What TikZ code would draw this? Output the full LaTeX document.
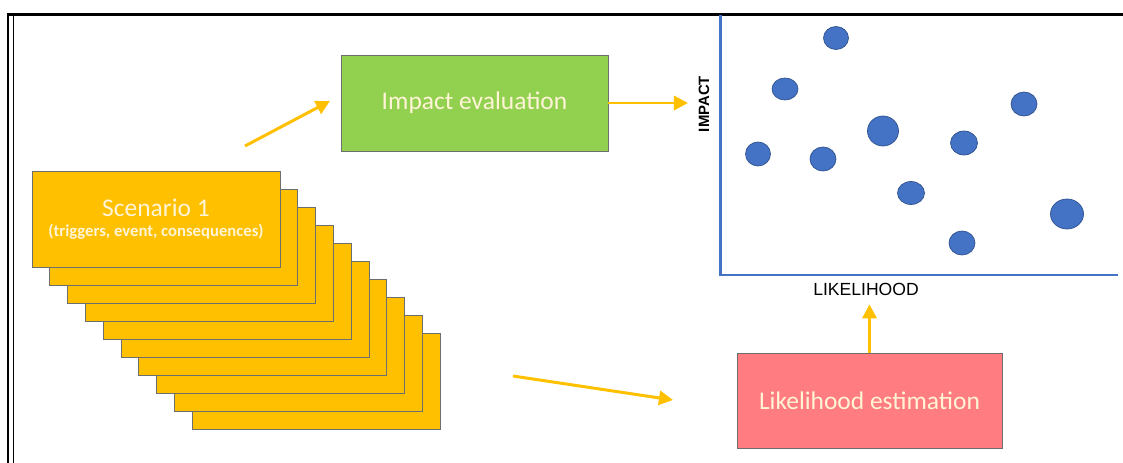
\documentclass[tikz,border=0pt]{standalone}
\usepackage{fontspec}
\setmainfont{Carlito}
\newfontfamily\axisfont{Liberation Sans}
\usetikzlibrary{arrows.meta, positioning}
\definecolor{scengold}{HTML}{FFC000}
\definecolor{evalgreen}{HTML}{92D050}
\definecolor{estpink}{HTML}{FF7C80}
\definecolor{dotblue}{HTML}{4472C4}
\definecolor{dotedge}{HTML}{2F528F}
\definecolor{boxedge}{HTML}{6E6E6E}
\definecolor{paletext}{HTML}{FFF4D6}

\begin{document}
\begin{tikzpicture}[x=0.02cm,y=-0.02cm,
  scen/.style={rectangle,draw=boxedge,fill=scengold,line width=0.5pt, minimum width=4.96cm,minimum height=1.92cm,inner sep=0pt,align=center,text=paletext},
  evalbox/.style={rectangle,draw=boxedge,fill=evalgreen,line width=0.5pt, minimum width=5.34cm,minimum height=1.92cm,text=paletext,font=\fontsize{14.5}{17}\selectfont},
  estbox/.style={rectangle,draw=boxedge,fill=estpink,line width=0.5pt, minimum width=5.3cm,minimum height=1.9cm,text=paletext,font=\fontsize{14.5}{17}\selectfont},
  axlabel/.style={font=\axisfont\fontsize{10}{12}\selectfont,inner sep=1pt},
  arr/.style={-{Triangle[length=8pt,width=8pt]},line width=1.7pt,draw=scengold},
  axis/.style={line width=1.7pt,draw=dotblue},
  dot/.style={fill=dotblue,draw=dotedge,line width=0.4pt}
]
  \useasboundingbox (0,0) rectangle (1123,463);
  % frame
  \draw[line width=1.2pt] (8,463) -- (8,14.5) -- (1123,14.5);
  \draw[line width=0.8pt] (13.3,463) -- (13.3,15.5);

  % stack of scenarios
  \foreach \i in {9,...,1}
    \node[scen] (s\i) at ({156+17.8*\i},{219+18*\i}) {};
  \node[scen] (s0) at (156,219)
    {{\fontsize{14.5}{17}\selectfont Scenario 1}\\[-1pt]{\fontsize{9.5}{11}\selectfont\bfseries (triggers, event, consequences)}};

  \node[evalbox] (eval) at (474.5,103) {Impact evaluation};
  \node[estbox]  (est)  at (869.5,400.5) {Likelihood estimation};

  % chart
  \draw[axis] (720,15) -- (720,275) -- (1118,275);
  \node[axlabel,font=\axisfont\bfseries\fontsize{8.5}{10}\selectfont,rotate=90] (imp) at (704,104) {IMPACT};
  \node[axlabel] (likl) at (866,289) {LIKELIHOOD};
  \foreach \x/\y/\rx/\ry in {836/38/12.5/11.5, 785/89/13/11, 758/154/12.5/12, 823/159/13/12,
    883/131/15.5/15, 964/143/13.5/12, 1024/104/13/12, 911/193/13.5/11.5,
    1067/214/16.5/15, 962/243/13/12}
    \draw[dot] (\x,\y) ellipse [x radius=\rx, y radius=\ry];

  \coordinate (impin)  at (245,146);
  \coordinate (impend) at (330,101);
  \coordinate (impax)  at (688,102);
  \coordinate (estin)  at (513,376);
  \coordinate (estend) at (673,400);

  \draw[arr](impin)--(impend);
  \draw[arr](eval.east)--(eval.east -| impax);
  \draw[arr](estin)--(estend);
  \draw[arr,shorten >=4pt](est.north)--(est.north |- likl.south);
\end{tikzpicture}
\end{document}
